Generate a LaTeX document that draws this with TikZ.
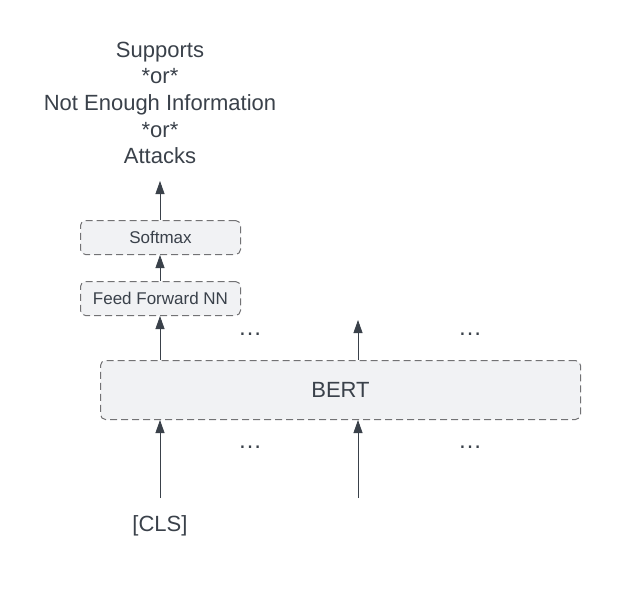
\documentclass[tikz,border=0pt]{standalone}
\usepackage{fontspec}
\setmainfont{Liberation Sans}
\usetikzlibrary{arrows.meta}
\definecolor{ink}{HTML}{3A414A}
\definecolor{boxfill}{HTML}{F1F2F4}
\definecolor{boxline}{HTML}{727274}
\begin{document}
\begin{tikzpicture}[x=1pt,y=-1pt,
  every node/.style={text=ink, inner sep=0pt},
  block/.style={draw=boxline, fill=boxfill, dash pattern=on 7pt off 4pt,
    line width=1pt, rounded corners=5pt, anchor=north west},
  flow/.style={draw=ink, line width=0.8pt, -{Triangle[length=13pt,width=9pt]}},
  dots/.style={font=\fontsize{24}{26}\selectfont}]
\useasboundingbox (0,0) rectangle (620,600);

% output label
\node[align=center, font=\fontsize{22}{26.7}\selectfont] (out) at (160,103)
  {Supports\\*or*\\Not Enough Information\\*or*\\Attacks};
\coordinate (outtip) at (160,181);

% stacked blocks
\node[block, minimum width=160pt, minimum height=34pt] (soft) at (80,220) {};
\node[font=\fontsize{17}{19}\selectfont] at (soft.center) {Softmax};
\node[block, minimum width=160pt, minimum height=34pt] (ffnn) at (80,281) {};
\node[font=\fontsize{17}{19}\selectfont] at (ffnn.center) {Feed Forward NN};
\node[block, minimum width=480pt, minimum height=59pt] (bert) at (100,360) {};
\node[font=\fontsize{22}{24}\selectfont] at (bert.center) {BERT};

% inputs
\node[font=\fontsize{22}{24}\selectfont] (cls) at (160,526) {[CLS]};
\coordinate (in1) at (160,498);
\coordinate (in2) at (358,498);
\coordinate (up2) at (358,320);

% ellipses
\node[dots] (d1) at (250,334) {\dots};
\node[dots] (d2) at (470,334) {\dots};
\node[dots] (d3) at (250,447) {\dots};
\node[dots] (d4) at (470,447) {\dots};

% connectors
\draw[flow] (in1) -- (in1 |- bert.south);
\draw[flow] (in2) -- (in2 |- bert.south);
\draw[flow] (bert.north -| in1) -- (ffnn.south -| in1);
\draw[flow] (bert.north -| up2) -- (up2);
\draw[flow] (ffnn.north -| in1) -- (soft.south -| in1);
\draw[flow] (soft.north -| in1) -- (outtip);
\end{tikzpicture}
\end{document}
